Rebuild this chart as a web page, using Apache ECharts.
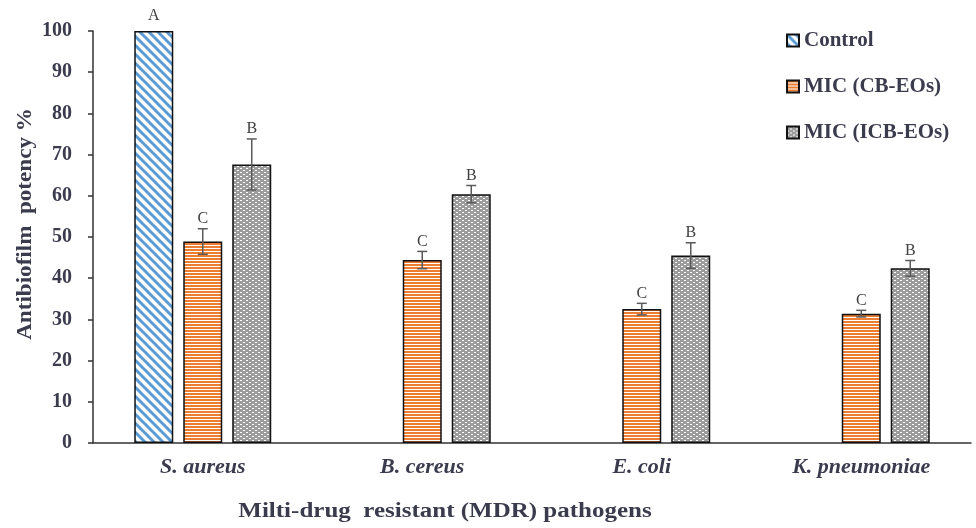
<!DOCTYPE html>
<html>
<head>
<meta charset="utf-8">
<script src="https://cdn.jsdelivr.net/npm/echarts@6/dist/echarts.min.js"></script>
<style>html,body{margin:0;padding:0;background:#fff;}#chart{width:976px;height:528px;}</style>
</head>
<body>
<div id="chart"></div>
<script>
// ---- data ----
const categories = ['S. aureus', 'B. cereus', 'E. coli', 'K. pneumoniae'];
const seriesNames = ['Control', 'MIC (CB-EOs)', 'MIC (ICB-EOs)'];
const controlValues = [100, null, null, null];
const controlErrors = [0, null, null, null];
const controlLetters = ['A', '', '', ''];
const cbValues = [48.9, 44.4, 32.5, 31.4];
const cbErrors = [3.1, 2.1, 1.4, 0.8];
const cbLetters = ['C', 'C', 'C', 'C'];
const icbValues = [67.6, 60.4, 45.5, 42.4];
const icbErrors = [6.2, 2.1, 3.1, 1.9];
const icbLetters = ['B', 'B', 'B', 'B'];
const yTicks = { min: 0, max: 100, interval: 10 };
const xTitle = 'Milti-drug  resistant (MDR) pathogens';
const yTitle = 'Antibiofilm  potency %';

// ---- patterns ----
function tile(w, h, draw) {
  const c = document.createElement('canvas');
  c.width = w; c.height = h;
  draw(c.getContext('2d'));
  return c;
}
const diagTile = tile(9, 9, ctx => {
  ctx.fillStyle = '#ffffff'; ctx.fillRect(0, 0, 9, 9);
  ctx.strokeStyle = '#5b9bd5'; ctx.lineWidth = 3;
  for (let k = -1; k <= 1; k++) {
    ctx.beginPath(); ctx.moveTo(k * 9 - 1, -1); ctx.lineTo(k * 9 + 10, 10); ctx.stroke();
  }
});
const stripeTile = tile(4, 3, ctx => {
  ctx.fillStyle = '#ffffff'; ctx.fillRect(0, 0, 4, 3);
  ctx.fillStyle = '#ed7d31'; ctx.fillRect(0, 0, 4, 2);
});
const dotTile = tile(6, 4, ctx => {
  ctx.fillStyle = '#9c9c9c'; ctx.fillRect(0, 0, 6, 4);
  ctx.fillStyle = '#ffffff';
  ctx.fillRect(0, 0, 2, 1); ctx.fillRect(3, 2, 2, 1);
});
const fills = [
  { image: diagTile, repeat: 'repeat' },
  { image: stripeTile, repeat: 'repeat' },
  { image: dotTile, repeat: 'repeat' }
];

const BAR_W = 39, BAR_GAP = 10;
const textColor = '#3b3b4e';
const serif = '"Liberation Serif", "Times New Roman", serif';

function barSeries(name, values, idx) {
  return {
    name: name, type: 'bar', barWidth: BAR_W, barGap: (BAR_GAP / BAR_W * 100).toFixed(1) + '%',
    data: values.map(v => v == null ? '-' : v),
    itemStyle: { color: fills[idx], borderColor: '#111', borderWidth: 1.5 },
    emphasis: { disabled: true }
  };
}
function errSeries(values, errors, letters, idx) {
  const offset = (idx - 1) * (BAR_W + BAR_GAP);
  const data = [];
  values.forEach((v, i) => { if (v != null) data.push([i, v, errors[i]]); });
  return {
    type: 'custom', name: 'err' + idx, silent: true, z: 10,
    encode: { x: 0, y: 1 },
    data: data,
    renderItem: function (params, api) {
      const i = api.value(0), v = api.value(1), e = api.value(2);
      const x = api.coord([i, v])[0] + offset;
      const yT = api.coord([i, v + e])[1];
      const yB = api.coord([i, v - e])[1];
      const children = [];
      if (e > 0) {
        const ls = { stroke: '#5a5a5a', lineWidth: 1.5 };
        children.push({ type: 'line', shape: { x1: x, y1: yT, x2: x, y2: yB }, style: ls });
        children.push({ type: 'line', shape: { x1: x - 5, y1: yT, x2: x + 5, y2: yT }, style: ls });
        children.push({ type: 'line', shape: { x1: x - 5, y1: yB, x2: x + 5, y2: yB }, style: ls });
      }
      children.push({
        type: 'text',
        style: {
          text: letters[i], x: x, y: yT - (e > 0 ? 2 : 7),
          align: 'center', verticalAlign: 'bottom',
          textAlign: 'center', textVerticalAlign: 'bottom',
          fontSize: 16, fontFamily: serif, fill: '#404040'
        }
      });
      return { type: 'group', children: children };
    }
  };
}

const chart = echarts.init(document.getElementById('chart'), null, { renderer: 'canvas' });
chart.setOption({
  animation: false,
  backgroundColor: '#ffffff',
  grid: { left: 93, right: 5, top: 31, bottom: 85 },
  legend: {
    data: seriesNames, orient: 'vertical', left: 781, top: 25,
    itemWidth: 12, itemHeight: 12, itemGap: 25, icon: 'rect',
    textStyle: { fontFamily: serif, fontWeight: 'bold', fontSize: 21, color: textColor }
  },
  xAxis: {
    type: 'category', data: categories,
    axisLine: { lineStyle: { color: '#333', width: 1.5 } },
    axisTick: { show: false },
    axisLabel: { fontFamily: serif, fontStyle: 'italic', fontWeight: 'bold', fontSize: 22, color: textColor, margin: 13 },
    splitLine: { show: false }
  },
  yAxis: {
    type: 'value', min: yTicks.min, max: yTicks.max, interval: yTicks.interval,
    axisLine: { show: true, lineStyle: { color: '#333', width: 1.5 } },
    axisTick: { show: true, length: 5, lineStyle: { color: '#333', width: 1.5 } },
    axisLabel: { fontFamily: serif, fontWeight: 'bold', fontSize: 20, color: textColor, margin: 21 },
    splitLine: { show: false }
  },
  graphic: [{
    type: 'text', x: 445, y: 512, scaleX: 1.25, silent: true,
    style: { text: xTitle, x: 0, y: 0, fontFamily: serif, fontWeight: 'bold', fontSize: 20, fill: textColor, align: 'center', verticalAlign: 'middle' }
  }, {
    type: 'text', x: 26, y: 224, rotation: Math.PI / 2, scaleX: 1.1, silent: true,
    style: { text: yTitle, x: 0, y: 0, fontFamily: serif, fontWeight: 'bold', fontSize: 21, fill: textColor, align: 'center', verticalAlign: 'middle' }
  }],
  series: [
    barSeries(seriesNames[0], controlValues, 0),
    barSeries(seriesNames[1], cbValues, 1),
    barSeries(seriesNames[2], icbValues, 2),
    errSeries(controlValues, controlErrors, controlLetters, 0),
    errSeries(cbValues, cbErrors, cbLetters, 1),
    errSeries(icbValues, icbErrors, icbLetters, 2)
  ]
});
</script>
</body>
</html>
